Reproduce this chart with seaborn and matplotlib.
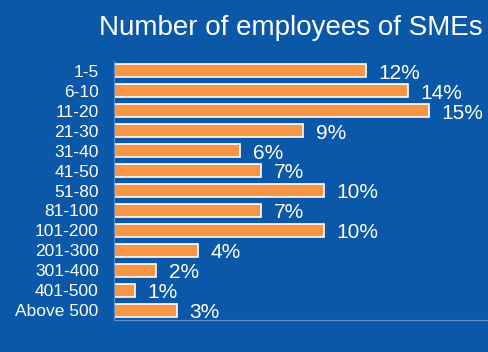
import matplotlib
matplotlib.use("Agg")
import matplotlib.pyplot as plt
import seaborn as sns
import pandas as pd

categories = ["1-5", "6-10", "11-20", "21-30", "31-40", "41-50", "51-80",
              "81-100", "101-200", "201-300", "301-400", "401-500", "Above 500"]
shares = [12, 14, 15, 9, 6, 7, 10, 7, 10, 4, 2, 1, 3]
title = "Number of employees of SMEs"

bg = "#0b58a8"
bar_color = "#f79646"

sns.set_theme(style="white")
plt.rcParams["font.family"] = ["Liberation Sans", "DejaVu Sans"]

df = pd.DataFrame({"size": categories, "share": shares})

fig = plt.figure(figsize=(4.88, 3.52), dpi=100, facecolor=bg)
ax = fig.add_axes([0.2336, 0.0909, 0.7664, 0.7358])
ax.set_facecolor(bg)

sns.barplot(data=df, x="share", y="size", orient="h", color=bar_color,
            edgecolor="white", linewidth=1.2, width=0.65, saturation=1, ax=ax)

ax.set_xlim(0, (488 - 114) / 21)
ax.set_ylim(len(categories) - 0.5, -0.5)
ax.set_xlabel("")
ax.set_ylabel("")
ax.set_xticks([])
ax.tick_params(axis="y", length=0, pad=11, labelsize=12.5, labelcolor="white")

for s in ["top", "right"]:
    ax.spines[s].set_visible(False)
for s in ["left", "bottom"]:
    ax.spines[s].set_color("#5d8fcc")
    ax.spines[s].set_linewidth(0.8)

for i, v in enumerate(shares):
    ax.text(v + 0.6, i + 0.12, f"{v}%", color="white", fontsize=15,
            va="center", ha="left")

fig.text(0.988, 0.92, title, color="white", fontsize=20, ha="right",
         va="center")

fig.savefig("out.png", dpi=100, facecolor=bg)
